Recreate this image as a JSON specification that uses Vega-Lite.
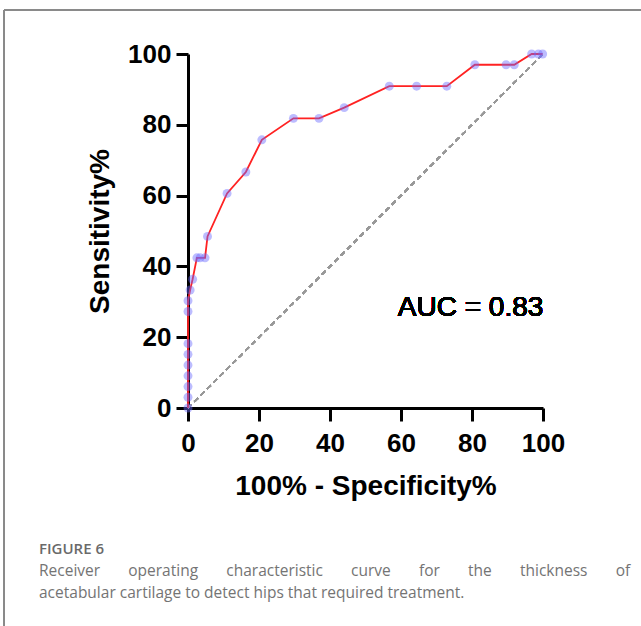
{
  "$schema": "https://vega.github.io/schema/vega-lite/v6.json",
  "width": 355,
  "height": 354,
  "autosize": {"type": "none"},
  "padding": {"left": 188, "top": 54, "right": 98, "bottom": 218},
  "background": "white",
  "config": {
    "view": {"stroke": null},
    "font": "Liberation Sans"
  },
  "title": {
    "text": "FIGURE 6",
    "subtitle": ["Receiver\u00a0\u00a0\u00a0\u00a0\u00a0\u00a0 operating\u00a0\u00a0\u00a0\u00a0\u00a0\u00a0 characteristic\u00a0\u00a0\u00a0\u00a0\u00a0\u00a0 curve\u00a0\u00a0\u00a0\u00a0\u00a0\u00a0 for\u00a0\u00a0\u00a0\u00a0\u00a0\u00a0 the\u00a0\u00a0\u00a0\u00a0\u00a0\u00a0 thickness\u00a0\u00a0\u00a0\u00a0\u00a0\u00a0 of", "acetabular cartilage to detect hips that required treatment."],
    "orient": "bottom",
    "anchor": "start",
    "frame": "group",
    "dx": -149,
    "offset": -86,
    "font": "Open Sans",
    "fontSize": 15,
    "fontWeight": 600,
    "color": "#6a6a6a",
    "subtitleFont": "Open Sans",
    "subtitleFontSize": 15.5,
    "subtitleColor": "#747474",
    "subtitleLineHeight": 22,
    "subtitlePadding": 7
  },
  "data": {
    "values": [
      {"fpr": 0, "tpr": 0},
      {"fpr": 0, "tpr": 3.03},
      {"fpr": 0, "tpr": 6.06},
      {"fpr": 0, "tpr": 9.09},
      {"fpr": 0, "tpr": 12.12},
      {"fpr": 0, "tpr": 15.15},
      {"fpr": 0, "tpr": 18.18},
      {"fpr": 0, "tpr": 27.27},
      {"fpr": 0, "tpr": 30.3},
      {"fpr": 0.6, "tpr": 33.33},
      {"fpr": 1.3, "tpr": 36.36},
      {"fpr": 2.5, "tpr": 42.42},
      {"fpr": 3.4, "tpr": 42.42},
      {"fpr": 4.8, "tpr": 42.42},
      {"fpr": 5.5, "tpr": 48.48},
      {"fpr": 11.0, "tpr": 60.61},
      {"fpr": 16.3, "tpr": 66.67},
      {"fpr": 20.8, "tpr": 75.76},
      {"fpr": 29.7, "tpr": 81.82},
      {"fpr": 36.9, "tpr": 81.82},
      {"fpr": 44.0, "tpr": 84.85},
      {"fpr": 56.7, "tpr": 90.91},
      {"fpr": 64.4, "tpr": 90.91},
      {"fpr": 72.9, "tpr": 90.91},
      {"fpr": 80.8, "tpr": 96.97},
      {"fpr": 89.6, "tpr": 96.97},
      {"fpr": 91.9, "tpr": 96.97},
      {"fpr": 96.8, "tpr": 100},
      {"fpr": 98.7, "tpr": 100},
      {"fpr": 99.9, "tpr": 100}
    ]
  },
  "layer": [
    {
      "mark": {"type": "rule", "color": "#8a8a8a", "strokeWidth": 1.5, "clip": false},
      "encoding": {
        "x": {"datum": -51.8, "type": "quantitative", "scale": {"domain": [0, 100], "nice": false}},
        "x2": {"datum": 128},
        "y": {"datum": 112.4, "type": "quantitative", "scale": {"domain": [0, 100], "nice": false}}
      }
    },
    {
      "mark": {"type": "rule", "color": "#8a8a8a", "strokeWidth": 1.5, "clip": false},
      "encoding": {
        "x": {"datum": -51.8, "type": "quantitative"},
        "y": {"datum": 112.4, "type": "quantitative"},
        "y2": {"datum": -62}
      }
    },
    {
      "mark": {"type": "rule", "color": "#999999", "strokeWidth": 1.5, "strokeDash": [5, 4]},
      "encoding": {
        "x": {"datum": 0, "type": "quantitative"},
        "y": {"datum": 0, "type": "quantitative"},
        "x2": {"datum": 100},
        "y2": {"datum": 100}
      }
    },
    {
      "mark": {"type": "line", "color": "#ff2222", "strokeWidth": 1.8},
      "encoding": {
        "x": {
          "field": "fpr", "type": "quantitative",
          "scale": {"domain": [0, 100], "nice": false},
          "axis": {
            "title": "100% - Specificity%",
            "values": [0, 20, 40, 60, 80, 100],
            "grid": false,
            "domainColor": "black", "domainWidth": 3,
            "tickColor": "black", "tickWidth": 3, "tickSize": 13,
            "labelFont": "Liberation Sans", "labelFontSize": 26, "labelFontWeight": "bold", "labelColor": "black",
            "labelPadding": 9, "labelFlush": false,
            "titleFont": "Liberation Sans", "titleFontSize": 28, "titleFontWeight": "bold", "titleColor": "black",
            "titlePadding": 16
          }
        },
        "y": {
          "field": "tpr", "type": "quantitative",
          "scale": {"domain": [0, 100], "nice": false},
          "axis": {
            "title": "Sensitivity%",
            "values": [0, 20, 40, 60, 80, 100],
            "grid": false,
            "domainColor": "black", "domainWidth": 3,
            "tickColor": "black", "tickWidth": 3, "tickSize": 12,
            "labelFont": "Liberation Sans", "labelFontSize": 26, "labelFontWeight": "bold", "labelColor": "black",
            "labelPadding": 5, "labelFlush": false,
            "titleFont": "Liberation Sans", "titleFontSize": 28, "titleFontWeight": "bold", "titleColor": "black",
            "titlePadding": 13
          }
        }
      }
    },
    {
      "mark": {"type": "circle", "size": 80, "color": "#6a6aff", "opacity": 0.45},
      "encoding": {
        "x": {"field": "fpr", "type": "quantitative"},
        "y": {"field": "tpr", "type": "quantitative"}
      }
    },
    {
      "mark": {"type": "text", "text": "AUC = 0.83", "font": "Liberation Sans", "fontSize": 28, "color": "black", "align": "center", "baseline": "alphabetic"},
      "encoding": {
        "x": {"datum": 79.6, "type": "quantitative"},
        "y": {"datum": 26, "type": "quantitative"}
      }
    }
  ]
}
